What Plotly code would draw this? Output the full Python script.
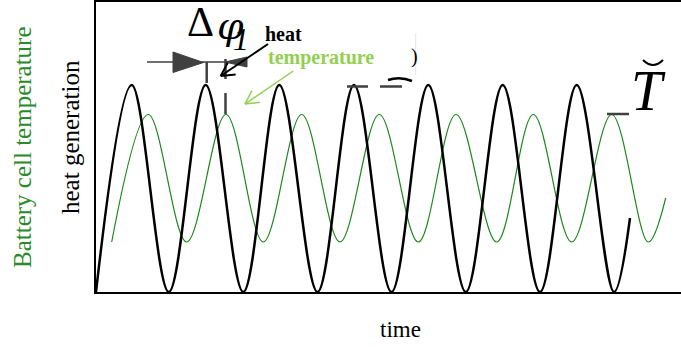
import math
import plotly.graph_objects as go

# ---- data (time units; heat generation and temperature, arbitrary units) ----
heat_time = [0, 35.7, 72.8, 109.7, 147.3, 183.3, 221.5, 258, 295.5, 332.3,
             369.8, 406.7, 444, 480.7, 518, 534]
heat_value = [0, 207, 0, 207, 0, 207, 0, 207, 0, 207, 0, 207, 0, 207, 0, 74]

temp_time = [15.7, 52.3, 90.7, 130, 167.3, 205.7, 244, 283.3, 322.3, 360,
             400.7, 437.3, 475.7, 515.7, 552.3, 569.7]
temp_value = [50, 177.5, 50, 177.5, 50, 177.5, 50, 177.5, 50, 177.5,
              50, 177.5, 50, 177.5, 50, 94]

x_title = "time"
y_title_heat = "heat generation"
y_title_temp = "Battery cell temperature"

X_MAX, Y_MAX = 585, 290
SERIF = "Liberation Serif, Times New Roman, serif"
GRAY = "#404040"
LIGHTGREEN = "#92d050"

fig = go.Figure()
fig.add_trace(go.Scatter(x=temp_time, y=temp_value, mode="lines",
                         line=dict(color="#1a8a1a", width=1.2, shape="spline"),
                         hoverinfo="skip", showlegend=False))
fig.add_trace(go.Scatter(x=heat_time, y=heat_value, mode="lines",
                         line=dict(color="black", width=2.5, shape="spline"),
                         hoverinfo="skip", showlegend=False))

shapes = []


def line(x0, y0, x1, y1, color=GRAY, width=2):
    shapes.append(dict(type="line", xref="x", yref="y", x0=x0, y0=y0, x1=x1, y1=y1,
                       line=dict(color=color, width=width), layer="above"))


def arrow(tx, ty, hx, hy, color, width, wing=15, ang=28):
    line(tx, ty, hx, hy, color, width)
    a = math.atan2(ty - hy, tx - hx)
    for s in (-1, 1):
        b = a + s * math.radians(ang)
        line(hx, hy, hx + wing * math.cos(b), hy + wing * math.sin(b), color, width)


# dimension marker for the phase shift
line(51, 230, 151, 230, GRAY, 1.5)
shapes.append(dict(type="path", xref="x", yref="y",
                   path="M 77 240 L 77 219.5 L 107.5 229.5 Z",
                   fillcolor=GRAY, line=dict(color=GRAY, width=1)))
shapes.append(dict(type="path", xref="x", yref="y",
                   path="M 129 230 L 151 235 L 151 225 Z",
                   fillcolor=GRAY, line=dict(color=GRAY, width=1)))
line(110.7, 230, 110.7, 209, GRAY, 2.5)
line(129.5, 233, 129.5, 213, GRAY, 2.5)
line(129.5, 199, 129.5, 178, GRAY, 2.5)

# amplitude dashes
line(251, 205.5, 272, 205.5, GRAY, 2.5)
line(284, 205.5, 306, 205.5, GRAY, 2.5)
line(511, 178, 533, 178, GRAY, 2.5)
shapes.append(dict(type="path", xref="x", yref="y",
                   path="M 292 212 Q 304 216 316 211", line=dict(color="black", width=2.5)))
line(319.7, 259, 319.7, 217, "#e6e6e6", 1)
# breve over T
shapes.append(dict(type="path", xref="x", yref="y",
                   path="M 547 232 Q 557 222 567 232", line=dict(color="black", width=2)))

# pointer arrows
arrow(172, 248, 124.7, 216, "black", 2)
arrow(197.3, 221, 149, 188, LIGHTGREEN, 1.5)

annotations = [
    dict(x=104, y=270, text="Δ", font=dict(family=SERIF, size=42, color="black")),
    dict(x=134, y=266, text="<i>φ</i>", font=dict(family="DejaVu Serif", size=38, color="black")),
    dict(x=145, y=253, text="<i>1</i>", font=dict(family=SERIF, size=32, color="black")),
    dict(x=187, y=258, text="<b>heat</b>", font=dict(family=SERIF, size=20, color="black")),
    dict(x=225, y=235, text="<b>temperature</b>", font=dict(family=SERIF, size=20, color=LIGHTGREEN)),
    dict(x=318.5, y=236, text=")", font=dict(family=SERIF, size=20, color="black")),
    dict(x=552, y=201, text="<i>T</i>", font=dict(family=SERIF, size=56, color="black")),
]
for a in annotations:
    a.update(xref="x", yref="y", showarrow=False)

annotations += [
    dict(x=304 / X_MAX, y=-37 / Y_MAX, text=x_title,
         font=dict(family=SERIF, size=23, color="black")),
    dict(x=-26 / X_MAX, y=155 / Y_MAX, text=y_title_heat, textangle=-90,
         font=dict(family=SERIF, size=25, color="black")),
    dict(x=-74 / X_MAX, y=145 / Y_MAX, text=y_title_temp, textangle=-90,
         font=dict(family=SERIF, size=25, color="#2a8a2a")),
]
for a in annotations[-3:]:
    a.update(xref="paper", yref="paper", showarrow=False, xanchor="center", yanchor="middle")

fig.update_layout(
    width=681, height=347,
    margin=dict(l=96, r=0, t=2, b=55),
    paper_bgcolor="white", plot_bgcolor="white",
    xaxis=dict(range=[0, X_MAX], showline=True, mirror=True, linecolor="black", linewidth=2,
               showgrid=False, zeroline=False, showticklabels=False, ticks=""),
    yaxis=dict(range=[0, Y_MAX], showline=True, mirror=False, linecolor="black", linewidth=2,
               showgrid=False, zeroline=False, showticklabels=False, ticks=""),
    shapes=shapes,
    annotations=annotations,
    showlegend=False,
)

fig.write_html("out.html")
